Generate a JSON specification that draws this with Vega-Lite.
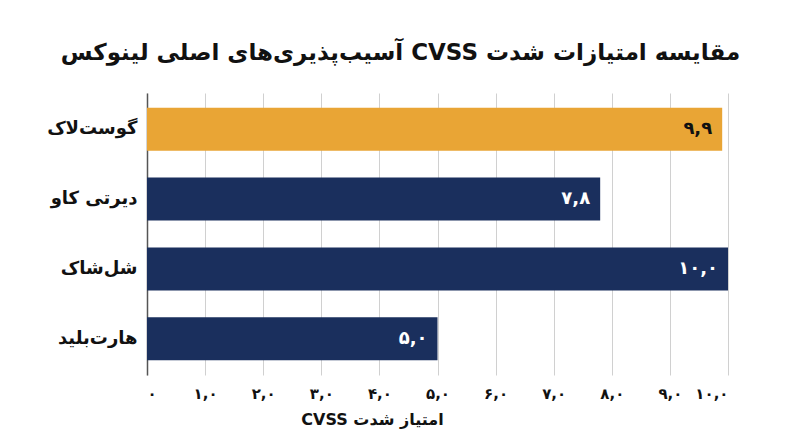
{
  "$schema": "https://vega.github.io/schema/vega-lite/v6.json",
  "autosize": "none",
  "width": 581,
  "height": 282,
  "padding": {"left": 147, "top": 93, "right": 72, "bottom": 72},
  "background": "white",
  "title": {
    "text": "\u202Bمقایسه امتیازات شدت CVSS آسیب‌پذیری‌های اصلی لینوکس\u202C",
    "font": "DejaVu Sans",
    "fontSize": 23,
    "fontWeight": "bold",
    "color": "#111111",
    "anchor": "middle",
    "dx": -37,
    "offset": 28
  },
  "data": {
    "values": [
      {"name": "گوست‌لاک", "score": 9.9},
      {"name": "دیرتی کاو", "score": 7.8},
      {"name": "شل‌شاک", "score": 10.0},
      {"name": "هارت‌بلید", "score": 5.0}
    ]
  },
  "encoding": {
    "y": {
      "field": "name",
      "type": "nominal",
      "sort": null,
      "scale": {"paddingInner": 0.385, "paddingOuter": 0.21},
      "axis": {
        "title": null,
        "ticks": false,
        "domain": true,
        "domainColor": "#555555",
        "domainWidth": 1.5,
        "labelFont": "DejaVu Sans",
        "labelFontSize": 18,
        "labelFontWeight": "bold",
        "labelColor": "#111111",
        "labelPadding": 10
      }
    },
    "x": {
      "field": "score",
      "type": "quantitative",
      "scale": {"domain": [0, 10], "nice": false},
      "axis": {
        "title": "\u202Bامتیاز شدت CVSS\u202C",
        "titleFont": "DejaVu Sans",
        "titleFontSize": 16,
        "titleFontWeight": "bold",
        "titleColor": "#111111",
        "titleX": 225,
        "titlePadding": 10,
        "values": [0, 1, 2, 3, 4, 5, 6, 7, 8, 9, 10],
        "labelExpr": "datum.value === 0 ? '۰' : datum.label",
        "format": ".1f",
        "domain": false,
        "ticks": false,
        "grid": true,
        "gridColor": "#d0d0d0",
        "gridWidth": 1,
        "labelFont": "DejaVu Sans",
        "labelFontSize": 15,
        "labelFontWeight": "bold",
        "labelColor": "#111111",
        "labelPadding": 11
      }
    }
  },
  "layer": [
    {
      "mark": {"type": "bar"},
      "encoding": {
        "color": {
          "condition": {"test": "datum.name === 'گوست‌لاک'", "value": "#E9A535"},
          "value": "#1A2F5D"
        }
      }
    },
    {
      "mark": {
        "type": "text",
        "align": "right",
        "baseline": "middle",
        "dx": -10,
        "font": "DejaVu Sans",
        "fontSize": 18,
        "fontWeight": "bold"
      },
      "encoding": {
        "text": {"field": "score", "type": "quantitative", "format": ".1f"},
        "color": {
          "condition": {"test": "datum.name === 'گوست‌لاک'", "value": "#111111"},
          "value": "#ffffff"
        }
      }
    }
  ],
  "config": {
    "view": {"stroke": null},
    "locale": {
      "number": {
        "decimal": ",",
        "thousands": "٬",
        "grouping": [3],
        "currency": ["", ""],
        "numerals": ["۰", "۱", "۲", "۳", "۴", "۵", "۶", "۷", "۸", "۹"]
      }
    }
  }
}
